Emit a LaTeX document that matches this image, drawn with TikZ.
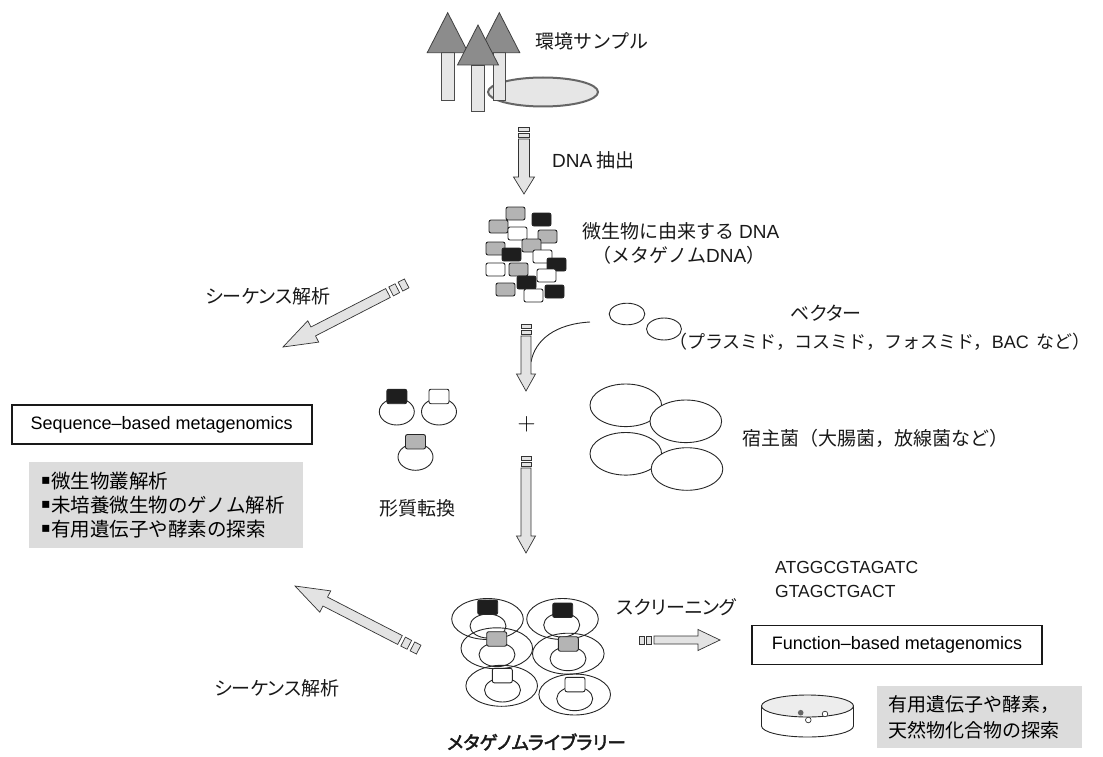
\documentclass[tikz,border=0pt]{standalone}
\usepackage{fontspec}
\setmainfont{Noto Sans CJK JP}
\newfontfamily\kana[RawFeature=+palt]{Noto Sans CJK JP}
\newfontfamily\kanabf[RawFeature=+palt,FakeBold=2.5]{Noto Sans CJK JP}
\newfontfamily\lat{Liberation Sans}
\newfontfamily\sym{DejaVu Sans}
\usetikzlibrary{calc}

\definecolor{fraggray}{HTML}{B4B4B4}
\definecolor{fragblack}{HTML}{1E1E1E}
\definecolor{arrowgray}{HTML}{E3E3E3}
\definecolor{panelgray}{HTML}{DCDCDC}
\definecolor{crowngray}{HTML}{8C8C8C}
\definecolor{trunkgray}{HTML}{E6E6E6}

% block arrow: #1 tail, #2 tip, #3 half shaft, #4 half head, #5 head length, #6 tail piece
\newcommand\fatarrow[6]{%
  \coordinate (neck) at ($(#2)!#5!(#1)$);
  \coordinate (pieceA) at ($(#1)!-#6/2!(#2)$);
  \coordinate (pieceB) at ($(#1)!-3*#6/2!(#2)$);
  \coordinate (pieceC) at ($(#1)!-2*#6!(#2)$);
  \coordinate (pieceD) at ($(#1)!-3*#6!(#2)$);
  \draw[fat] ($(#1)!#3!90:(#2)$) -- ($(neck)!#3!90:(#2)$) -- ($(neck)!#4!90:(#2)$) -- (#2)
    -- ($(neck)!#4!-90:(#2)$) -- ($(neck)!#3!-90:(#2)$) -- ($(#1)!#3!-90:(#2)$) -- cycle;
  \draw[fat] ($(pieceA)!#3!90:(#2)$) -- ($(pieceB)!#3!90:(#2)$) -- ($(pieceB)!#3!-90:(#2)$) -- ($(pieceA)!#3!-90:(#2)$) -- cycle;
  \draw[fat] ($(pieceC)!#3!90:(#2)$) -- ($(pieceD)!#3!90:(#2)$) -- ($(pieceD)!#3!-90:(#2)$) -- ($(pieceC)!#3!-90:(#2)$) -- cycle;
}
\newcommand\sqbullet{\raisebox{3.5pt}{\sym\fontsize{14}{14}\selectfont▪}\hspace{1pt}}

\begin{document}
\begin{tikzpicture}[x=1pt,y=-1pt,
  lbl/.style={font=\fontsize{19}{23}\selectfont, text=black!90, inner sep=0pt},
  kanalbl/.style={font=\kana\fontsize{19}{23}\selectfont, text=black!90, inner sep=0pt},
  seqtext/.style={font=\lat\fontsize{17.5}{21}\selectfont, text=black!90, inner sep=0pt},
  resultbox/.style={draw=black!90, line width=1.6pt, font=\lat\fontsize{18}{22}\selectfont, minimum height=39pt},
  panel/.style={fill=panelgray, inner xsep=12pt, align=left},
  fat/.style={draw=black!80, fill=arrowgray, line width=0.7pt},
  frag/.style={draw=black!85, line width=0.9pt, rounded corners=2pt},
  cell/.style={draw=black!85, line width=0.9pt},
  crown/.style={draw=black!75, fill=crowngray, line width=0.8pt},
  trunk/.style={draw=black!70, fill=trunkgray, line width=0.8pt}]
\useasboundingbox (0,0) rectangle (1103,757);

% sampling site
\draw[draw=black!60, fill=trunkgray, line width=2pt] (543,92) ellipse[x radius=55pt, y radius=14.5pt];
\foreach \x/\y/\h in {499.3/12.7/100, 447.7/12.7/100, 478/25/111.7}{
  \draw[trunk] (\x-6.3,\y+40) rectangle (\x+6.3,\h);
  \draw[crown] (\x,\y) -- (\x-20.5,\y+40) -- (\x+20.5,\y+40) -- cycle;
}
\node[lbl, anchor=west] (sample) at (535,41) {環境サンプル};

% extraction
\coordinate (extractA) at (524,139);
\coordinate (extractB) at (524,194);
\fatarrow{extractA}{extractB}{5.5pt}{10.5pt}{17pt}{4pt}
\node[lbl, anchor=west] (extract) at (552,160) {{\lat DNA} 抽出};

% metagenomic DNA fragments
\foreach \x/\y/\c in {506/207/fraggray, 532/213/fragblack, 489/220/fraggray, 508/227/white,
  538/230/fraggray, 486/242/fraggray, 522/239/fraggray, 502/248/fragblack, 533/250/white,
  547/258/fragblack, 486/263/white, 509/263/fraggray, 537/269/white, 517/276/fragblack,
  496/283/fraggray, 524/289/white, 545/285/fragblack}
  \draw[frag, fill=\c] (\x,\y) rectangle +(19,13);
\node[lbl] (metadna) at (681,231) {微生物に由来する {\lat DNA}};
\node[lbl] (metadna2) at (679,255) {（メタゲノム{\lat DNA}）};

% sequencing of the DNA
\coordinate (seqUpA) at (388,293);
\coordinate (seqUpB) at (283,347);
\fatarrow{seqUpA}{seqUpB}{5pt}{12pt}{34pt}{7pt}
\node[kanalbl] (sequp) at (268,296) {シーケンス解析};

% vectors
\draw[cell] (627,314) ellipse[x radius=17.8pt, y radius=10.8pt];
\draw[cell] (664,329) ellipse[x radius=17.5pt, y radius=11pt];
\node[kanalbl] (vector) at (826,313) {ベクター};
\node[lbl, font=\fontsize{18}{22}\selectfont] (vectorkind) at (880,342) {（プラスミド，コスミド，フォスミド，{\lat BAC}\ \ など）};
\coordinate (ligA) at (590,322);
\coordinate (ligB) at (531,362);
\draw[cell] (ligA) .. controls (555,324) and (535,340) .. (ligB);

% ligation
\coordinate (ligTop) at (526,336);
\coordinate (ligTip) at (526,391);
\fatarrow{ligTop}{ligTip}{5pt}{9.5pt}{17pt}{4pt}

% transformants
\foreach \x/\y/\c in {396.8/411.7/fragblack, 439/411.7/white, 415.5/457/fraggray}{
  \draw[cell] (\x,\y) ellipse[x radius=17.5pt, y radius=13.3pt];
  \draw[frag, fill=\c] (\x-10,\y-22.5) rectangle +(20,14.5);
}
\node[font=\fontsize{24}{24}\selectfont, inner sep=0pt] (plus) at (526.5,424) {$+$};
\node[lbl] (transform) at (417,508) {形質転換};

% host cells
\foreach \x/\y in {625.8/405.3, 685.8/421.3, 625.8/453.8, 687/469}
  \draw[cell, fill=white] (\x,\y) ellipse[x radius=35.8pt, y radius=21.3pt];
\node[lbl, anchor=west] (host) at (742,438) {宿主菌（大腸菌，放線菌など）};

% sequence-based side
\node[resultbox, minimum width=300pt] (seqbox) at (161.7,424.5) {Sequence–based metagenomics};
\node[panel, text width=250pt, minimum height=86pt, font=\fontsize{19.5}{24}\selectfont] (sequses) at (166,505)
  {\sqbullet 微生物叢解析\\\sqbullet 未培養微生物のゲノム解析\\\sqbullet 有用遺伝子や酵素の探索};

% library
\coordinate (libTop) at (526,468);
\coordinate (libTip) at (526,553);
\fatarrow{libTop}{libTip}{5pt}{9.5pt}{17pt}{4pt}
\foreach \ox/\oy/\ix/\iy/\bx/\by/\c in {
  487.5/619/488/626/477.7/600/fragblack, 562.5/619/561.7/625/552.7/603/fragblack,
  496.8/648.3/497/654.7/486.7/631.7/fraggray, 568.3/653.7/568/658.7/558.3/636.7/fraggray,
  501.7/685.8/502.5/690/492.3/668.3/white, 574.7/694.5/574.7/698.7/565/677.3/white}{
  \draw[cell] (\ox,\oy) ellipse[x radius=35.8pt, y radius=20.5pt];
  \draw[cell] (\ix,\iy) ellipse[x radius=18pt, y radius=12pt];
  \draw[frag, fill=\c] (\bx,\by) rectangle +(20,14.5);
}
\node[font=\kanabf\fontsize{18.5}{22}\selectfont, text=black!90, inner sep=0pt] (library) at (536.5,742) {メタゲノムライブラリー};

% sequencing of the library
\coordinate (seqLowA) at (400,640);
\coordinate (seqLowB) at (295,586);
\fatarrow{seqLowA}{seqLowB}{5pt}{12pt}{34pt}{7pt}
\node[kanalbl] (seqlow) at (277,688) {シーケンス解析};

% function-based side
\node[kanalbl] (screen) at (676.5,607.5) {スクリーニング};
\coordinate (screenA) at (654,640);
\coordinate (screenB) at (720,640);
\fatarrow{screenA}{screenB}{4pt}{10.5pt}{22pt}{5pt}
\node[seqtext, anchor=west] (seqA) at (775,567) {ATGGCGTAGATC};
\node[seqtext, anchor=west] (seqB) at (775,591) {GTAGCTGACT};
\node[resultbox, minimum width=290pt] (funcbox) at (897,645) {Function–based metagenomics};

% petri dish
\draw[cell] (761.5,706) -- (761.5,726) arc[start angle=180, end angle=360, x radius=46pt, y radius=11pt] -- (853.5,706);
\draw[cell, fill=black!7] (807.5,706) ellipse[x radius=46pt, y radius=11pt];
\fill[black!60] (800.7,712.7) circle[radius=2.8pt];
\draw[black!80, fill=white, line width=0.7pt] (808.3,720) circle[radius=2.8pt] (825,714) circle[radius=2.8pt];
\node[panel, text width=181pt, minimum height=62pt, font=\fontsize{19}{26}\selectfont] (funcuses) at (979,717)
  {有用遺伝子や酵素，\\天然物化合物の探索};
\end{tikzpicture}
\end{document}
